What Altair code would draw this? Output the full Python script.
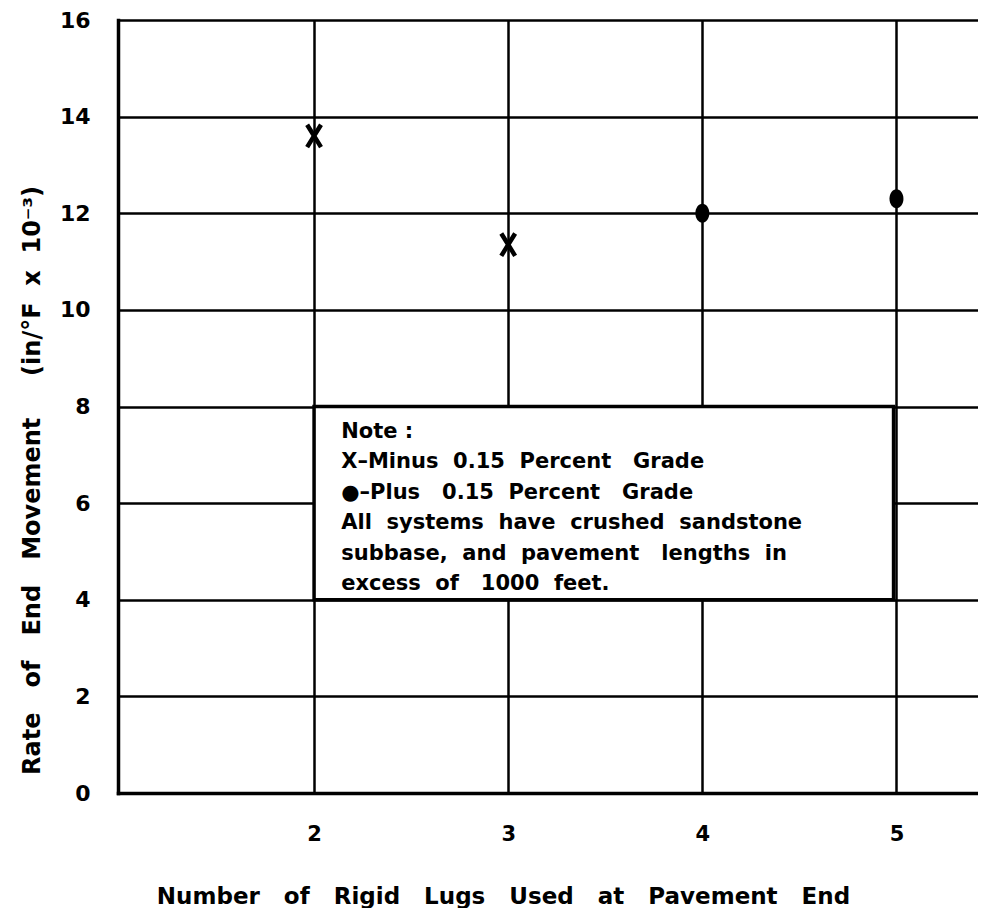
import altair as alt
import pandas as pd

# data
lugs = [2, 3, 4, 5]
rate = [13.6, 11.35, 12.0, 12.3]
grade = ["Minus", "Minus", "Plus", "Plus"]
x_ticks = [2, 3, 4, 5]
y_ticks = [0, 2, 4, 6, 8, 10, 12, 14, 16]
S = "\u00a0"
note_lines = [
    "Note" + S + ":",
    "X–Minus 0.15 Percent" + S + " Grade",
    "●–Plus" + S + " 0.15 Percent" + S + " Grade",
    "All systems have crushed sandstone",
    "subbase, and pavement" + S + " lengths in",
    "excess of" + S + " 1000 feet.",
]
note_box = {"x": 2.0, "x2": 4.985, "y": 4.0, "y2": 8.0}

df = pd.DataFrame({"lugs": lugs, "rate": rate, "grade": grade})
FONT = "DejaVu Sans"


def spaced(s, n=2):
    return s.replace(" ", " " + S * (n - 1))


xscale = alt.Scale(domain=[0.99, 5.42], nice=False, zero=False)
yscale = alt.Scale(domain=[0, 16], nice=False)

xax = alt.Axis(values=x_ticks, format="d", grid=True, labelPadding=30, labelFontSize=21,
               labelFontWeight="bold",
               title=spaced("Number of Rigid Lugs Used at Pavement End", 3),
               titleFontSize=23, titleFontWeight="bold",
               titleX=385, titleY=103, titleAlign="center", titleBaseline="middle")
yax = alt.Axis(values=y_ticks, grid=True, labelPadding=28, labelFontSize=22,
               labelFontWeight="bold",
               title=spaced("Rate of End Movement", 3) + S * 5 + spaced("(in/°F x 10⁻³)", 2),
               titleFontSize=24, titleFontWeight="bold",
               titleX=-86, titleY=460, titleAngle=-90, titleAlign="center",
               titleBaseline="middle")

base = alt.Chart(df)

points_x = base.transform_filter(alt.datum.grade == "Minus").mark_point(
    shape="M-0.62,-1L0.62,1M0.62,-1L-0.62,1", size=500, filled=False,
    stroke="black", strokeWidth=4.5, opacity=1
).encode(x=alt.X("lugs:Q", scale=xscale, axis=xax),
         y=alt.Y("rate:Q", scale=yscale, axis=yax))

points_o = base.transform_filter(alt.datum.grade == "Plus").mark_point(
    shape="M0,-1.15A0.85,1.15 0 1,1 0,1.15A0.85,1.15 0 1,1 0,-1.15Z",
    size=270, filled=True, color="black", opacity=1
).encode(x=alt.X("lugs:Q", scale=xscale), y=alt.Y("rate:Q", scale=yscale))

box_df = pd.DataFrame([note_box])
box = alt.Chart(box_df).mark_rect(fill="white", stroke="black", strokeWidth=3.5).encode(
    x=alt.X("x:Q", scale=xscale), x2="x2:Q",
    y=alt.Y("y:Q", scale=yscale), y2="y2:Q")

note = alt.Chart(pd.DataFrame({"t": ["\n".join(spaced(l) for l in note_lines)]})).mark_text(
    align="left", baseline="top", lineBreak="\n", lineHeight=30.5,
    font=FONT, fontSize=21, fontWeight="bold", color="black"
).encode(x=alt.datum(2.14, scale=xscale), y=alt.datum(7.7, scale=yscale),
         text="t:N")

chart = alt.layer(box, note, points_x, points_o).properties(
    width=860, height=773,
    autosize=alt.AutoSizeParams(type="none"),
    padding={"left": 110, "top": 12, "right": 0, "bottom": 115},
    background="white",
).configure_view(stroke=None).configure_axis(
    domainColor="black", domainWidth=3.5, gridColor="black", gridWidth=2.5,
    gridOpacity=1, ticks=False, labelFont=FONT, titleFont=FONT,
    labelColor="black", titleColor="black", domainCap="square"
)

chart.save("out.html", embed_options={"renderer": "svg", "actions": False})
